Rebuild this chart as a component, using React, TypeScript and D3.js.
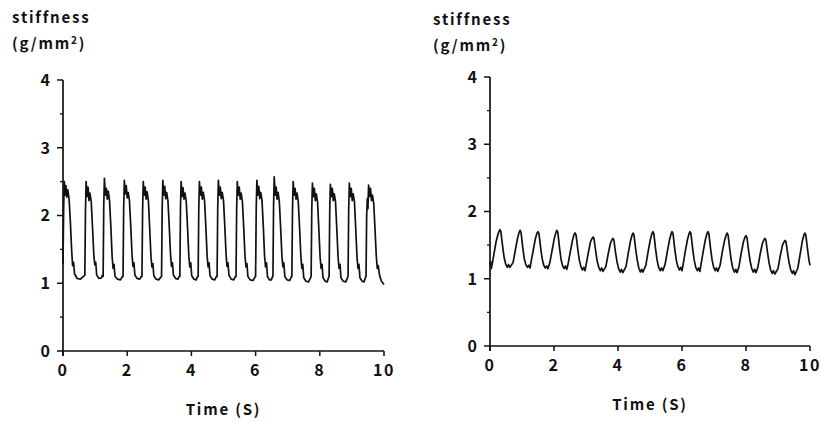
import React from "react";
import * as d3 from "d3";

// ---- data ----
const xTicks = [0, 2, 4, 6, 8, 10];
const yMajorTicks = [0, 1, 2, 3, 4];
const yMinorTicks = [0.5, 1.5, 2.5, 3.5];
const yLabelLines = ["stiffness", "(g/mm²)"];
const xLabel = "Time (S)";

// left panel: stiffness vs time (square-like waveform)
const leftSeries: [number, number][] = [
  [0.00,1.28],[0.02,2.10],[0.04,2.50],[0.07,2.30],[0.09,2.44],[0.12,2.27],[0.15,2.38],[0.19,2.24],[0.23,1.90],[0.27,1.48],[0.30,1.26],[0.33,1.31],[0.36,1.14],[0.44,1.07],[0.54,1.06],[0.64,1.10],
  [0.68,1.12],[0.70,2.05],[0.72,2.50],[0.75,2.28],[0.78,2.42],[0.81,2.22],[0.84,2.33],[0.88,2.20],[0.92,1.82],[0.96,1.42],[0.99,1.27],[1.02,1.31],[1.05,1.12],[1.12,1.07],[1.20,1.08],[1.23,1.12],
  [1.25,1.10],[1.27,2.15],[1.29,2.55],[1.32,2.30],[1.35,2.40],[1.38,2.24],[1.41,2.36],[1.45,2.22],[1.49,1.84],[1.53,1.40],[1.56,1.22],[1.59,1.28],[1.62,1.10],[1.70,1.06],[1.79,1.05],[1.85,1.10],
  [1.87,1.10],[1.89,2.10],[1.91,2.52],[1.94,2.32],[1.97,2.44],[2.00,2.26],[2.03,2.34],[2.07,2.22],[2.11,1.85],[2.15,1.42],[2.18,1.25],[2.21,1.30],[2.24,1.12],[2.31,1.07],[2.39,1.06],[2.44,1.10],
  [2.46,1.10],[2.48,2.08],[2.50,2.50],[2.53,2.30],[2.56,2.42],[2.59,2.24],[2.62,2.35],[2.66,2.22],[2.70,1.82],[2.74,1.40],[2.77,1.24],[2.80,1.29],[2.83,1.11],[2.90,1.06],[2.98,1.05],[3.05,1.09],
  [3.07,1.10],[3.09,2.10],[3.11,2.52],[3.14,2.30],[3.17,2.43],[3.20,2.25],[3.23,2.34],[3.27,2.21],[3.31,1.84],[3.35,1.42],[3.38,1.25],[3.41,1.30],[3.44,1.12],[3.51,1.07],[3.58,1.06],[3.62,1.10],
  [3.64,1.10],[3.66,2.12],[3.68,2.50],[3.71,2.28],[3.74,2.41],[3.77,2.24],[3.80,2.33],[3.84,2.20],[3.88,1.82],[3.92,1.40],[3.95,1.24],[3.98,1.30],[4.01,1.11],[4.08,1.06],[4.15,1.05],[4.19,1.10],
  [4.21,1.10],[4.23,2.10],[4.25,2.50],[4.28,2.30],[4.31,2.42],[4.34,2.24],[4.37,2.34],[4.41,2.22],[4.45,1.84],[4.49,1.40],[4.52,1.24],[4.55,1.30],[4.58,1.11],[4.65,1.06],[4.73,1.05],[4.78,1.10],
  [4.80,1.10],[4.82,2.10],[4.84,2.52],[4.87,2.30],[4.90,2.42],[4.93,2.25],[4.96,2.34],[5.00,2.22],[5.04,1.85],[5.08,1.42],[5.11,1.25],[5.14,1.30],[5.17,1.12],[5.24,1.06],[5.32,1.05],[5.37,1.10],
  [5.39,1.10],[5.41,2.10],[5.43,2.50],[5.46,2.30],[5.49,2.42],[5.52,2.24],[5.55,2.33],[5.59,2.20],[5.63,1.82],[5.67,1.40],[5.70,1.24],[5.73,1.29],[5.76,1.10],[5.83,1.05],[5.92,1.04],[5.98,1.09],
  [6.00,1.10],[6.02,2.12],[6.04,2.52],[6.07,2.30],[6.10,2.43],[6.13,2.25],[6.16,2.34],[6.20,2.22],[6.24,1.84],[6.28,1.40],[6.31,1.24],[6.34,1.30],[6.37,1.10],[6.43,1.05],[6.49,1.05],[6.52,1.09],
  [6.54,1.10],[6.56,2.15],[6.58,2.57],[6.61,2.30],[6.64,2.42],[6.67,2.24],[6.70,2.34],[6.74,2.20],[6.78,1.82],[6.82,1.40],[6.85,1.24],[6.88,1.30],[6.91,1.10],[6.98,1.05],[7.06,1.04],[7.11,1.09],
  [7.13,1.10],[7.15,2.10],[7.17,2.50],[7.20,2.30],[7.23,2.40],[7.26,2.24],[7.29,2.33],[7.33,2.20],[7.37,1.82],[7.41,1.40],[7.44,1.22],[7.47,1.28],[7.50,1.08],[7.57,1.03],[7.65,1.02],[7.71,1.08],
  [7.73,1.10],[7.75,2.08],[7.77,2.48],[7.80,2.28],[7.83,2.40],[7.86,2.22],[7.89,2.32],[7.93,2.20],[7.97,1.80],[8.01,1.38],[8.04,1.22],[8.07,1.28],[8.10,1.08],[8.17,1.03],[8.23,1.02],[8.27,1.08],
  [8.29,1.10],[8.31,2.08],[8.33,2.46],[8.36,2.28],[8.39,2.40],[8.42,2.22],[8.45,2.32],[8.49,2.20],[8.53,1.80],[8.57,1.38],[8.60,1.22],[8.63,1.28],[8.66,1.08],[8.73,1.03],[8.81,1.02],[8.86,1.08],
  [8.88,1.10],[8.90,2.08],[8.92,2.48],[8.95,2.28],[8.98,2.40],[9.01,2.22],[9.04,2.32],[9.08,2.20],[9.12,1.80],[9.16,1.38],[9.19,1.22],[9.22,1.28],[9.25,1.08],[9.32,1.03],[9.38,1.02],[9.42,1.08],
  [9.44,1.10],[9.46,2.00],[9.48,2.25],[9.50,2.10],[9.52,2.45],[9.55,2.28],[9.58,2.40],[9.61,2.22],[9.64,2.30],[9.68,2.18],[9.72,1.80],[9.76,1.40],[9.79,1.22],[9.82,1.26],[9.86,1.12],[9.92,1.03],[10.00,0.98],
];

// right panel: stiffness vs time (sinusoid-like waveform)
const rightSeries: [number, number][] = [
  [0.00,1.20],[0.02,1.25],[0.04,1.15],[0.07,1.22],[0.12,1.36],[0.19,1.55],[0.26,1.68],
  [0.31,1.73],[0.34,1.70],[0.39,1.50],[0.44,1.32],[0.49,1.22],[0.54,1.17],[0.58,1.21],[0.62,1.17],[0.72,1.24],[0.79,1.42],[0.86,1.60],[0.91,1.69],
  [0.94,1.72],[0.97,1.69],[1.02,1.48],[1.07,1.30],[1.12,1.21],[1.17,1.17],[1.21,1.20],[1.25,1.16],[1.28,1.24],[1.35,1.42],[1.42,1.60],[1.47,1.68],
  [1.50,1.70],[1.53,1.67],[1.58,1.47],[1.63,1.30],[1.68,1.20],[1.73,1.16],[1.77,1.19],[1.81,1.15],[1.87,1.24],[1.94,1.42],[2.01,1.60],[2.06,1.69],
  [2.09,1.72],[2.12,1.69],[2.17,1.47],[2.22,1.29],[2.27,1.19],[2.32,1.15],[2.36,1.19],[2.40,1.14],[2.44,1.22],[2.51,1.40],[2.58,1.58],[2.63,1.66],
  [2.66,1.68],[2.69,1.65],[2.74,1.45],[2.79,1.28],[2.84,1.18],[2.89,1.13],[2.93,1.17],[2.97,1.12],[3.00,1.20],[3.07,1.38],[3.14,1.55],[3.19,1.60],
  [3.22,1.62],[3.25,1.60],[3.30,1.42],[3.35,1.26],[3.40,1.17],[3.45,1.12],[3.49,1.16],[3.53,1.11],[3.62,1.18],[3.69,1.36],[3.76,1.52],[3.81,1.58],
  [3.84,1.60],[3.87,1.58],[3.92,1.40],[3.97,1.25],[4.02,1.15],[4.07,1.10],[4.11,1.14],[4.15,1.09],[4.25,1.18],[4.32,1.38],[4.39,1.56],[4.44,1.65],
  [4.47,1.68],[4.50,1.65],[4.55,1.45],[4.60,1.28],[4.65,1.16],[4.70,1.10],[4.74,1.14],[4.78,1.10],[4.87,1.20],[4.94,1.40],[5.01,1.58],[5.06,1.67],
  [5.09,1.70],[5.12,1.67],[5.17,1.46],[5.22,1.28],[5.27,1.17],[5.32,1.12],[5.36,1.16],[5.40,1.12],[5.47,1.21],[5.54,1.40],[5.61,1.58],[5.66,1.67],
  [5.69,1.70],[5.72,1.67],[5.77,1.46],[5.82,1.28],[5.87,1.18],[5.92,1.13],[5.96,1.17],[6.00,1.12],[6.03,1.20],[6.10,1.40],[6.17,1.58],[6.22,1.67],
  [6.25,1.70],[6.28,1.67],[6.33,1.46],[6.38,1.28],[6.43,1.17],[6.48,1.12],[6.52,1.16],[6.56,1.11],[6.59,1.20],[6.66,1.40],[6.73,1.58],[6.78,1.67],
  [6.81,1.70],[6.84,1.67],[6.89,1.46],[6.94,1.28],[6.99,1.17],[7.04,1.12],[7.08,1.16],[7.12,1.11],[7.19,1.20],[7.26,1.40],[7.33,1.57],[7.38,1.65],
  [7.41,1.68],[7.44,1.65],[7.49,1.45],[7.54,1.27],[7.59,1.15],[7.64,1.10],[7.68,1.14],[7.72,1.09],[7.78,1.18],[7.85,1.38],[7.92,1.55],[7.97,1.62],
  [8.00,1.64],[8.03,1.61],[8.08,1.42],[8.13,1.26],[8.18,1.15],[8.23,1.10],[8.27,1.14],[8.31,1.09],[8.37,1.17],[8.44,1.36],[8.51,1.52],[8.56,1.58],
  [8.59,1.60],[8.62,1.58],[8.67,1.40],[8.72,1.24],[8.77,1.13],[8.82,1.08],[8.86,1.12],[8.90,1.07],[9.00,1.15],[9.07,1.34],[9.14,1.50],[9.19,1.55],
  [9.22,1.57],[9.25,1.55],[9.30,1.38],[9.35,1.23],[9.40,1.13],[9.45,1.08],[9.49,1.12],[9.53,1.06],[9.62,1.16],[9.69,1.36],[9.76,1.56],[9.81,1.65],
  [9.84,1.68],[9.87,1.65],[9.92,1.45],[9.97,1.27],[10.00,1.20],
];

const FONT = "'Noto Sans CJK JP', 'Noto Sans', sans-serif";

type PanelProps = {
  data: [number, number][];
  x0: number; x1: number; yTop: number; yBottom: number;
  titleX: number; titleY: number;
};

function Panel({ data, x0, x1, yTop, yBottom, titleX, titleY }: PanelProps) {
  const x = d3.scaleLinear().domain([0, 10]).range([x0, x1]);
  const y = d3.scaleLinear().domain([0, 4]).range([yBottom, yTop]);
  const line = d3.line<[number, number]>().x(d => x(d[0])).y(d => y(d[1]));
  const textStyle = { fontFamily: FONT, fontWeight: 700 as const, fill: "#111" };
  return (
    <g>
      <text x={titleX} y={titleY} fontSize={15} letterSpacing={1.8} style={textStyle}>{yLabelLines[0]}</text>
      <text x={titleX} y={titleY + 26} fontSize={15} letterSpacing={1.8} style={textStyle}>
        (g/mm<tspan fontSize={10} dy={-5}>2</tspan><tspan dy={5}>)</tspan>
      </text>
      {/* y axis */}
      <line x1={x(0)} x2={x(0)} y1={y(0) + 5} y2={y(4)} stroke="#111" strokeWidth={1.7} />
      {yMajorTicks.map(t => (
        <g key={"ym" + t}>
          <line x1={x(0) - 6} x2={x(0)} y1={y(t)} y2={y(t)} stroke="#111" strokeWidth={1.5} />
          <text x={x(0) - 13} y={y(t)} dy="0.36em" textAnchor="end" fontSize={16} style={textStyle}>{t}</text>
        </g>
      ))}
      {yMinorTicks.map(t => (
        <line key={"yn" + t} x1={x(0) - 3} x2={x(0)} y1={y(t)} y2={y(t)} stroke="#111" strokeWidth={1.3} />
      ))}
      {/* x axis */}
      <line x1={x(0)} x2={x(10)} y1={y(0)} y2={y(0)} stroke="#111" strokeWidth={1.7} />
      {xTicks.map(t => (
        <g key={"xt" + t}>
          <line x1={x(t)} x2={x(t)} y1={y(0)} y2={y(0) + 5} stroke="#111" strokeWidth={1.5} />
          <text x={x(t)} y={y(0) + 19} dy="0.36em" textAnchor="middle" fontSize={16} letterSpacing={1.5} style={textStyle}>{t}</text>
        </g>
      ))}
      <text x={(x0 + x1) / 2} y={y(0) + 64} textAnchor="middle" fontSize={15} letterSpacing={1.8} style={textStyle}>{xLabel}</text>
      <path d={line(data) || ""} fill="none" stroke="#111" strokeWidth={1.7} strokeLinejoin="round" />
    </g>
  );
}

export default function App() {
  return (
    <svg width={820} height={423} style={{ position: "absolute", left: 0, top: 0, background: "#fff" }}>
      <rect width={820} height={423} fill="#fff" />
      <Panel data={leftSeries} x0={63} x1={384} yTop={80} yBottom={351} titleX={12} titleY={23} />
      <Panel data={rightSeries} x0={490} x1={810} yTop={77} yBottom={346} titleX={433} titleY={25} />
    </svg>
  );
}
